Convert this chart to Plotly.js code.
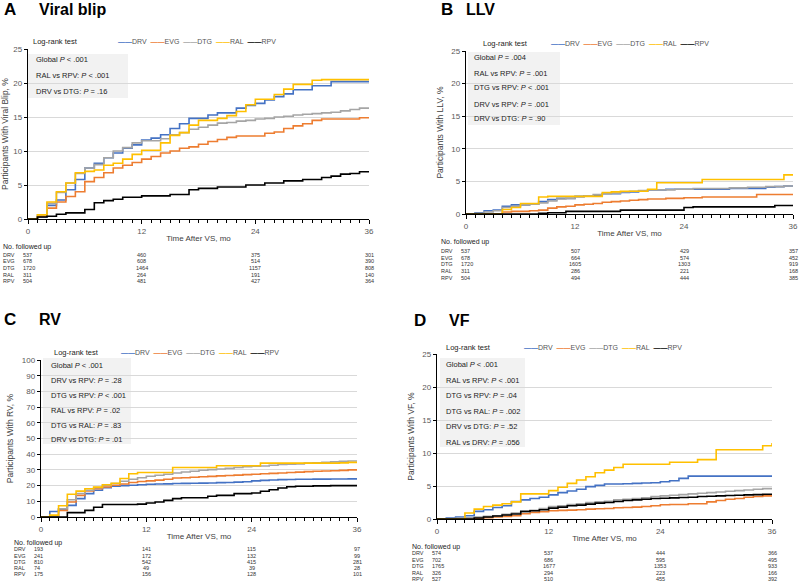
<!DOCTYPE html>
<html>
<head>
<meta charset="utf-8">
<script src="https://cdn.plot.ly/plotly-3.0.1.min.js"></script>
<style>
  html, body { margin: 0; padding: 0; background: #fff; }
  #chart { width: 800px; height: 584px; }
</style>
</head>
<body>
<div id="chart"></div>
<script>
// months after VS
const months = [...Array(37).keys()];
const drugs = ['DRV', 'EVG', 'DTG', 'RAL', 'RPV'];
const colors = ['#4472C4', '#ED7D31', '#A5A5A5', '#FFC000', '#000000'];

// A - viral blip, cumulative %
const blipDRV = [0, 0.3, 2.0, 2.8, 4.3, 5.8, 7.5, 8.2, 9.0, 9.7, 10.4, 10.9, 11.6, 11.9, 12.4, 13.3, 14.0, 14.8, 14.8, 15.3, 15.6, 15.6, 16.3, 16.7, 17.0, 17.5, 18.0, 18.4, 19.0, 19.0, 19.6, 19.6, 20.2, 20.2, 20.2, 20.2, 20.2];
const blipEVG = [0, 0.4, 1.6, 2.5, 3.3, 4.0, 5.5, 6.1, 6.8, 7.5, 7.9, 8.3, 8.8, 9.2, 9.7, 10.0, 10.4, 10.6, 11.0, 11.4, 11.7, 12.0, 12.2, 12.2, 12.2, 12.6, 12.8, 13.3, 13.7, 14.0, 14.5, 14.7, 14.7, 14.7, 14.7, 14.9, 14.9];
const blipDTG = [0, 0.6, 2.3, 3.9, 5.3, 6.7, 7.5, 8.0, 9.0, 10.0, 10.5, 11.2, 11.5, 11.5, 11.8, 12.4, 12.7, 13.2, 13.5, 13.8, 14.1, 14.2, 14.4, 14.5, 14.7, 14.8, 15.0, 15.1, 15.3, 15.4, 15.5, 15.6, 15.7, 15.9, 16.1, 16.3, 16.3];
const blipRAL = [0, 0.6, 2.5, 4.0, 5.3, 6.8, 7.0, 7.2, 7.9, 8.2, 8.8, 9.5, 10.1, 10.1, 11.2, 12.3, 12.7, 13.8, 14.5, 14.5, 14.8, 15.2, 15.8, 16.8, 17.6, 17.6, 18.3, 19.1, 19.8, 19.8, 20.4, 20.5, 20.5, 20.5, 20.5, 20.5, 20.5];
const blipRPV = [0, 0.3, 0.4, 0.7, 0.9, 0.9, 1.4, 2.4, 2.7, 2.9, 3.2, 3.2, 3.4, 3.4, 3.4, 3.6, 3.6, 4.3, 4.5, 4.5, 4.7, 4.7, 4.7, 5.0, 5.0, 5.3, 5.3, 5.6, 5.6, 5.8, 5.8, 6.1, 6.3, 6.6, 6.7, 6.95, 6.95];

// B - LLV
const llvDRV = [0, 0.2, 0.5, 0.6, 1.2, 1.4, 1.4, 1.5, 1.9, 2.2, 2.4, 2.4, 2.7, 2.8, 2.8, 3.1, 3.1, 3.3, 3.4, 3.5, 3.7, 3.7, 3.8, 3.8, 3.8, 3.8, 3.8, 3.8, 3.8, 3.9, 3.9, 3.9, 3.9, 4.1, 4.2, 4.3, 4.4];
const llvEVG = [0, 0, 0, 0, 0.3, 0.4, 0.4, 0.5, 0.6, 0.9, 1.1, 1.2, 1.4, 1.5, 1.6, 1.8, 1.9, 2.0, 2.1, 2.2, 2.3, 2.3, 2.4, 2.4, 2.5, 2.5, 2.6, 2.6, 2.6, 2.6, 2.6, 2.6, 3.0, 3.0, 3.0, 3.0, 3.0];
const llvDTG = [0, 0.1, 0.3, 0.5, 1.0, 1.2, 1.4, 1.5, 1.7, 2.0, 2.3, 2.4, 2.6, 2.8, 3.0, 3.1, 3.2, 3.4, 3.5, 3.6, 3.7, 3.7, 3.7, 3.8, 3.8, 3.9, 3.9, 3.9, 3.9, 4.0, 4.0, 4.1, 4.1, 4.2, 4.2, 4.3, 4.4];
const llvRAL = [0, 0, 0, 0, 0.7, 1.0, 1.6, 1.6, 2.6, 2.7, 2.7, 2.7, 2.7, 2.7, 2.7, 3.3, 3.4, 3.5, 3.5, 3.5, 3.8, 4.8, 4.8, 4.8, 4.8, 4.8, 5.3, 5.3, 5.3, 5.3, 5.3, 5.3, 5.3, 5.3, 5.3, 6.0, 6.0];
const llvRPV = [0, 0, 0, 0, 0, 0, 0, 0, 0.1, 0.2, 0.2, 0.4, 0.4, 0.4, 0.4, 0.4, 0.4, 0.6, 0.6, 0.6, 0.6, 0.6, 0.6, 0.6, 1.0, 1.1, 1.1, 1.1, 1.1, 1.1, 1.1, 1.1, 1.1, 1.1, 1.3, 1.3, 1.3];

// C - RV
const rvDRV = [0, 3.5, 5.0, 7.4, 11.7, 14.9, 17.0, 18.7, 19.6, 20.0, 20.2, 20.5, 20.9, 21.0, 21.1, 21.3, 21.4, 21.5, 21.6, 21.7, 21.9, 22.0, 22.2, 22.5, 23.0, 23.3, 23.6, 23.8, 23.9, 24.0, 24.0, 24.1, 24.1, 24.2, 24.2, 24.3, 24.3];
const rvEVG = [0, 0.3, 4.2, 9.6, 13.8, 16.6, 18.0, 19.1, 20.2, 21.0, 22.0, 22.6, 23.0, 23.5, 24.0, 24.8, 25.0, 25.3, 25.6, 25.9, 26.2, 26.4, 26.7, 27.0, 27.2, 27.5, 27.8, 28.0, 28.3, 28.6, 28.9, 29.1, 29.3, 29.5, 29.7, 30.0, 30.1];
const rvDTG = [0, 0.5, 5.3, 11.0, 15.0, 17.0, 18.7, 20.2, 21.3, 22.8, 24.0, 25.0, 26.0, 26.6, 27.2, 28.0, 28.7, 29.1, 29.8, 30.2, 30.6, 31.0, 31.5, 32.0, 32.3, 32.5, 33.0, 33.4, 33.6, 33.8, 34.3, 34.5, 34.9, 35.1, 35.5, 35.7, 35.7];
const rvRAL = [0, 1.2, 7.2, 14.5, 16.5, 18.0, 19.0, 20.5, 21.5, 24.5, 27.5, 28.3, 28.3, 28.3, 28.3, 31.5, 31.5, 31.5, 31.5, 31.5, 32.6, 32.6, 32.6, 32.6, 32.6, 34.3, 34.3, 34.3, 34.3, 34.3, 34.3, 34.3, 34.3, 34.3, 34.5, 34.8, 34.8];
const rvRPV = [0, 0, 0, 2.8, 2.8, 4.2, 6.2, 8.0, 8.0, 8.0, 8.0, 8.2, 8.9, 9.6, 10.6, 11.7, 12.3, 12.3, 12.3, 13.2, 13.8, 13.8, 14.9, 14.9, 15.3, 16.4, 17.4, 18.5, 19.3, 19.6, 19.6, 19.8, 19.8, 20.0, 20.0, 20.0, 20.0];

// D - VF
const vfDRV = [0, 0.15, 0.3, 0.5, 1.15, 1.4, 1.75, 2.0, 2.65, 2.9, 3.1, 3.3, 3.65, 4.0, 4.25, 4.5, 4.9, 5.1, 5.3, 5.3, 5.35, 5.4, 5.45, 5.5, 5.65, 5.8, 6.15, 6.5, 6.5, 6.5, 6.5, 6.5, 6.5, 6.5, 6.5, 6.5, 6.5];
const vfEVG = [0, 0, 0, 0, 0.1, 0.2, 0.3, 0.4, 0.5, 0.8, 1.0, 1.1, 1.25, 1.3, 1.35, 1.4, 1.5, 1.55, 1.6, 1.7, 1.75, 1.8, 1.9, 2.0, 2.15, 2.2, 2.2, 2.3, 2.3, 2.6, 2.8, 3.0, 3.1, 3.3, 3.4, 3.5, 3.65];
const vfDTG = [0, 0, 0.1, 0.2, 0.3, 0.4, 0.5, 0.7, 0.9, 1.1, 1.3, 1.6, 1.9, 2.0, 2.2, 2.3, 2.5, 2.6, 2.7, 2.9, 3.0, 3.1, 3.2, 3.4, 3.5, 3.6, 3.7, 3.8, 3.9, 4.0, 4.1, 4.2, 4.3, 4.4, 4.5, 4.6, 4.65];
const vfRAL = [0, 0, 0, 0.9, 1.5, 1.9, 2.1, 2.3, 2.6, 3.8, 3.8, 3.8, 4.3, 4.8, 5.4, 5.9, 6.4, 7.0, 7.4, 7.8, 8.3, 8.3, 8.3, 8.3, 8.3, 8.6, 8.6, 8.6, 9.0, 9.0, 10.5, 10.5, 10.5, 10.5, 10.5, 11.1, 11.5];
const vfRPV = [0, 0, 0, 0, 0.15, 0.3, 0.45, 0.6, 0.75, 1.15, 1.25, 1.4, 1.65, 1.8, 2.0, 2.1, 2.25, 2.4, 2.5, 2.65, 2.8, 2.9, 3.0, 3.1, 3.15, 3.2, 3.25, 3.3, 3.4, 3.45, 3.5, 3.55, 3.6, 3.65, 3.7, 3.75, 3.8];

// numbers followed up at 0, 12, 24, 36 months
const riskMonths = [0, 12, 24, 36];
const blipRisk = [[537, 460, 375, 301], [678, 608, 514, 390], [1720, 1464, 1157, 808], [311, 264, 191, 140], [504, 481, 427, 364]];
const llvRisk = [[537, 507, 429, 357], [678, 664, 574, 452], [1720, 1605, 1303, 919], [311, 286, 221, 168], [504, 494, 444, 385]];
const rvRisk = [[193, 141, 115, 97], [241, 172, 132, 99], [810, 542, 415, 281], [74, 49, 39, 28], [175, 156, 128, 101]];
const vfRisk = [[574, 537, 444, 366], [702, 686, 595, 495], [1765, 1677, 1353, 933], [326, 294, 223, 166], [527, 510, 455, 392]];

// log-rank results
const blipTests = ['Global <i>P</i> &lt; .001', 'RAL vs RPV: <i>P</i> &lt; .001', 'DRV vs DTG: <i>P</i> = .16'];
const llvTests = ['Global <i>P</i> = .004', 'RAL vs RPV: <i>P</i> = .001', 'DTG vs RPV: <i>P</i> &lt; .001', 'DRV vs RPV: <i>P</i> = .001', 'DRV vs DTG: <i>P</i> = .90'];
const rvTests = ['Global <i>P</i> &lt; .001', 'DRV vs RPV: <i>P</i> = .28', 'DTG vs RPV: <i>P</i> &lt; .001', 'RAL vs RPV: <i>P</i> = .02', 'DTG vs RAL: <i>P</i> = .83', 'DRV vs DTG: <i>P</i> = .01'];
const vfTests = ['Global <i>P</i> &lt; .001', 'RAL vs RPV: <i>P</i> &lt; .001', 'DTG vs RPV: <i>P</i> = .04', 'DTG vs RAL: <i>P</i> = .002', 'DRV vs DTG: <i>P</i> = .52', 'RAL vs DRV: <i>P</i> = .056'];

const W = 800, H = 584;
const px = x => x / W;
const py = y => 1 - y / H;
const FONT = 'Arial, "Liberation Sans", sans-serif';

const panels = [
  { ax: '', letter: 'A', name: 'Viral blip', ytitle: 'Participants With Viral Blip, %', series: [blipDRV, blipEVG, blipDTG, blipRAL, blipRPV],
    risk: blipRisk, tests: blipTests, ymax: 25, dy: 5,
    dom: [28, 369, 49, 219], head: [3, 38, 10], lr: [32, 41], leg: [117, 41],
    box: [28, 128, 54, 98], testY: [60, 76, 92], testX: 35,
    tab: { lab: 2, first: 22, y: [247, 255, 261.5, 268, 274.5, 281] } },
  { ax: '2', letter: 'B', name: 'LLV', ytitle: 'Participants With LLV, %', series: [llvDRV, llvEVG, llvDTG, llvRAL, llvRPV],
    risk: llvRisk, tests: llvTests, ymax: 25, dy: 5,
    dom: [466, 793, 51, 214], head: [440, 465, 10], lr: [482, 44], leg: [550, 44],
    box: [468, 560, 52, 125], testY: [58, 73, 88, 104, 119], testX: 473,
    tab: { lab: 440, first: 460, y: [242, 251, 257.5, 264, 271, 278] } },
  { ax: '3', letter: 'C', name: 'RV', ytitle: 'Participants With RV, %', series: [rvDRV, rvEVG, rvDTG, rvRAL, rvRPV],
    risk: rvRisk, tests: rvTests, ymax: 100, dy: 10,
    dom: [41, 357, 360, 517], head: [3, 38, 319], lr: [53, 352], leg: [120, 352],
    box: [43, 131, 358, 444], testY: [365, 380, 395, 410, 425, 439], testX: 50,
    tab: { lab: 13, first: 33, y: [543, 549, 555.5, 562, 568, 574] } },
  { ax: '4', letter: 'D', name: 'VF', ytitle: 'Participants With VF, %', series: [vfDRV, vfEVG, vfDTG, vfRAL, vfRPV],
    risk: vfRisk, tests: vfTests, ymax: 25, dy: 5,
    dom: [437, 772, 354, 519], head: [413, 448, 320], lr: [445, 347], leg: [523, 347],
    box: [440, 525, 358, 447], testY: [364, 380, 395, 411, 426, 442], testX: 445,
    tab: { lab: 411, first: 431, y: [547, 553, 560, 566, 573, 579] } }
];

const traces = [];
const layout = {
  width: W, height: H,
  margin: { l: 0, r: 0, t: 0, b: 0 },
  paper_bgcolor: '#ffffff', plot_bgcolor: '#ffffff',
  font: { family: FONT, size: 8, color: '#404040' },
  showlegend: false,
  annotations: [], shapes: []
};

const legendText = drugs.map((d, i) =>
  '<span style="color:' + colors[i] + '"><b>——</b></span>' + d).join('&nbsp;&nbsp;');

function note(x, y, text, size, extra) {
  return Object.assign({ xref: 'paper', yref: 'paper', x: x, y: y, xanchor: 'left', yanchor: 'middle',
    text: text, showarrow: false, borderpad: 0, font: { size: size, color: '#222' } }, extra || {});
}

panels.forEach(p => {
  const xa = 'x' + p.ax, ya = 'y' + p.ax;
  p.series.forEach((s, i) => {
    traces.push({
      x: months, y: s, xaxis: xa, yaxis: ya,
      type: 'scatter', mode: 'lines', name: drugs[i],
      line: { color: colors[i], width: 1.6, shape: 'hv' },
      hoverinfo: 'skip'
    });
  });

  layout['xaxis' + p.ax] = {
    domain: [px(p.dom[0]), px(p.dom[1])], anchor: ya,
    range: [0, 36], tickvals: riskMonths, showgrid: false, zeroline: false,
    showline: true, linecolor: '#000', linewidth: 1.2,
    ticks: 'outside', ticklen: 4, tickcolor: '#000',
    minor: { dtick: 1, tick0: 0, ticks: 'outside', ticklen: 2.5, tickcolor: '#000', showgrid: false },
    tickfont: { size: 8, color: '#595959' },
    title: { text: 'Time After VS, mo', font: { size: 8, color: '#404040' }, standoff: 0 }
  };
  layout['yaxis' + p.ax] = {
    domain: [py(p.dom[3]), py(p.dom[2])], anchor: xa,
    range: [0, p.ymax], dtick: p.dy, zeroline: false,
    showgrid: true, gridcolor: '#D9D9D9', gridwidth: 1,
    showline: true, linecolor: '#000', linewidth: 1.2,
    ticks: 'outside', ticklen: 3, tickcolor: '#000',
    tickfont: { size: 8, color: '#595959' },
    title: { text: p.ytitle, font: { size: 8.5, color: '#404040' }, standoff: 6 }
  };

  const A = layout.annotations;
  // panel letter and title
  A.push(note(px(p.head[0]), py(p.head[2]), '<b>' + p.letter + '</b>', 17, { font: { size: 17, color: '#000' } }));
  A.push(note(px(p.head[1]), py(p.head[2]), '<b>' + p.name + '</b>', 16, { font: { size: 16, color: '#000' } }));
  // log-rank label and legend
  A.push(note(px(p.lr[0]), py(p.lr[1]), 'Log-rank test', 7.5));
  A.push(note(px(p.leg[0]), py(p.leg[1]), legendText, 7, { font: { size: 7, color: '#555' } }));
  // test box
  layout.shapes.push({ type: 'rect', xref: 'paper', yref: 'paper', layer: 'below',
    x0: px(p.box[0]), x1: px(p.box[1]), y0: py(p.box[3]), y1: py(p.box[2]),
    fillcolor: '#F2F2F2', line: { width: 0 } });
  p.tests.forEach((t, i) => A.push(note(px(p.testX), py(p.testY[i]), t, 7.5)));
  // numbers followed up
  A.push(note(px(p.tab.lab), py(p.tab.y[0]), 'No. followed up', 7));
  drugs.forEach((d, i) => {
    const yy = py(p.tab.y[i + 1]);
    const f = { size: 5.5, color: '#333' };
    A.push(note(px(p.tab.lab), yy, d, 5.5, { font: f }));
    A.push(note(px(p.tab.first), yy, String(p.risk[i][0]), 5.5, { font: f }));
    for (let k = 1; k < riskMonths.length; k++) {
      A.push(note(riskMonths[k], yy, String(p.risk[i][k]), 5.5, { xref: xa, xanchor: 'center', font: f }));
    }
  });
});

Plotly.newPlot('chart', traces, layout, { displayModeBar: false, staticPlot: true });
</script>
</body>
</html>
